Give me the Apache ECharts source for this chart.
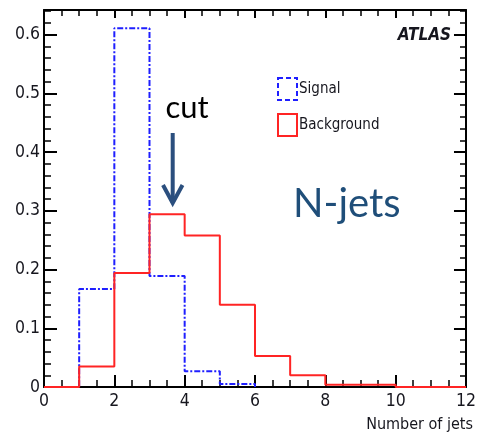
<!DOCTYPE html>
<html>
<head>
<meta charset="utf-8">
<script src="https://cdn.jsdelivr.net/npm/echarts@6/dist/echarts.min.js"></script>
<style>
  html, body { margin: 0; padding: 0; background: #ffffff; }
  #chart { width: 479px; height: 439px; }
</style>
</head>
<body>
<div id="chart"></div>
<script>
// Jet multiplicity histograms (normalised), one value per unit-wide bin.
const binEdges = [0, 1, 2, 3, 4, 5, 6, 7, 8, 9, 10, 11, 12];
const signalValues = [0, 0.167, 0.611, 0.189, 0.027, 0.005, 0, 0, 0, 0, 0, 0];
const backgroundValues = [0, 0.035, 0.194, 0.294, 0.258, 0.140, 0.053, 0.020, 0.004, 0.004, 0, 0];

// Axis tick labels
const xTickLabels = ['0', '2', '4', '6', '8', '10', '12'];
const yTickLabels = ['0', '0.1', '0.2', '0.3', '0.4', '0.5', '0.6'];

const seriesNames = ['Signal', 'Background'];

const TICK_FONT = '"DejaVu Sans Condensed", "Liberation Sans Narrow", "Liberation Sans", Arial, sans-serif';
const INK = '#16161e';

// Turn bin contents into step-line vertices (step: 'end' draws each bin flat up to the next edge).
function stepData(values, keepTrailingZeros) {
  let last = values.length;
  if (!keepTrailingZeros) {
    while (last > 0 && values[last - 1] === 0) last--;
  }
  const pts = [];
  for (let i = 0; i < last; i++) pts.push([binEdges[i], values[i]]);
  pts.push([binEdges[last], last < values.length ? values[last] : values[last - 1]]);
  return pts;
}

function frameAxis(dim, position, showLabels, majorLen, minorLen) {
  const isX = dim === 'x';
  const ax = {
    type: 'value',
    position: position,
    min: 0,
    max: isX ? 12 : 0.642,
    interval: isX ? 2 : 0.1,
    axisLine: { show: true, onZero: false, lineStyle: { color: '#000', width: 2 } },
    axisTick: { show: true, inside: true, length: majorLen, lineStyle: { color: '#000', width: 2 } },
    minorTick: { show: true, splitNumber: isX ? 4 : 5, length: minorLen, lineStyle: { color: '#000', width: 1.5 } },
    splitLine: { show: false },
    minorSplitLine: { show: false },
    axisLabel: { show: false }
  };
  if (showLabels) {
    ax.axisLabel = {
      show: true,
      showMaxLabel: isX,
      margin: isX ? 5 : 4,
      color: INK,
      fontFamily: TICK_FONT,
      fontSize: 17.5,
      formatter: isX
        ? (v) => xTickLabels[Math.round(v / 2)]
        : (v) => yTickLabels[Math.round(v * 10)]
    };
  }
  return ax;
}

const chart = echarts.init(document.getElementById('chart'), null, { renderer: 'canvas' });

chart.setOption({
  animation: false,
  backgroundColor: '#ffffff',
  grid: { left: 44, right: 6, top: 10, bottom: 52, containLabel: false },
  xAxis: [frameAxis('x', 'bottom', true, 12, 7), frameAxis('x', 'top', false, 8, 6)],
  yAxis: [frameAxis('y', 'left', true, 13, 7), frameAxis('y', 'right', false, 12, 6)],
  legend: {
    orient: 'vertical',
    left: 277,
    top: 77,
    padding: 0,
    itemWidth: 19,
    itemHeight: 22,
    itemGap: 12,
    selectedMode: false,
    textStyle: { color: INK, fontFamily: TICK_FONT, fontSize: 15, padding: [0, 0, 0, -3] },
    data: [
      {
        name: seriesNames[0], icon: 'rect',
        itemStyle: { color: 'rgba(0,0,0,0)', borderColor: '#1f1fff', borderWidth: 2, borderType: [5, 3] }
      },
      {
        name: seriesNames[1], icon: 'rect',
        itemStyle: { color: 'rgba(0,0,0,0)', borderColor: '#ff2424', borderWidth: 2 }
      }
    ]
  },
  series: [
    {
      name: seriesNames[0], type: 'line', step: 'end', symbol: 'none',
      xAxisIndex: 0, yAxisIndex: 0, z: 3,
      lineStyle: { color: '#1f1fff', width: 2, type: [6, 2, 2, 2] },
      itemStyle: { color: '#1f1fff' },
      data: stepData(signalValues, false)
    },
    {
      name: seriesNames[1], type: 'line', step: 'end', symbol: 'none',
      xAxisIndex: 0, yAxisIndex: 0, z: 4,
      lineStyle: { color: '#ff2424', width: 2 },
      itemStyle: { color: '#ff2424' },
      data: stepData(backgroundValues, true)
    }
  ],
  graphic: [
    {
      type: 'text', right: 6, top: 417, z: 10,
      style: { text: 'Number of jets', fill: INK, font: '16px ' + TICK_FONT }
    },
    {
      type: 'text', right: 28, top: 27, z: 10,
      style: { text: 'ATLAS', fill: INK, font: 'italic bold 17px ' + TICK_FONT }
    },
    {
      type: 'text', x: 187, y: 108, z: 10,
      style: {
        text: 'cut', fill: '#000000', align: 'center', verticalAlign: 'middle',
        font: '31px Lato, "Open Sans", sans-serif'
      }
    },
    {
      type: 'line', z: 10,
      shape: { x1: 172.7, y1: 133, x2: 172.7, y2: 203 },
      style: { stroke: '#2b4f7e', lineWidth: 4 }
    },
    {
      type: 'polyline', z: 10,
      shape: { points: [[163, 185], [172.7, 203], [182.5, 185]] },
      style: { stroke: '#2b4f7e', lineWidth: 4, fill: null, lineJoin: 'miter' }
    },
    {
      type: 'text', x: 293, y: 204, z: 10,
      style: {
        text: 'N-jets', fill: '#1f4e79', align: 'left', verticalAlign: 'middle',
        font: '40px Lato, "Open Sans", sans-serif'
      }
    }
  ]
});
</script>
</body>
</html>
